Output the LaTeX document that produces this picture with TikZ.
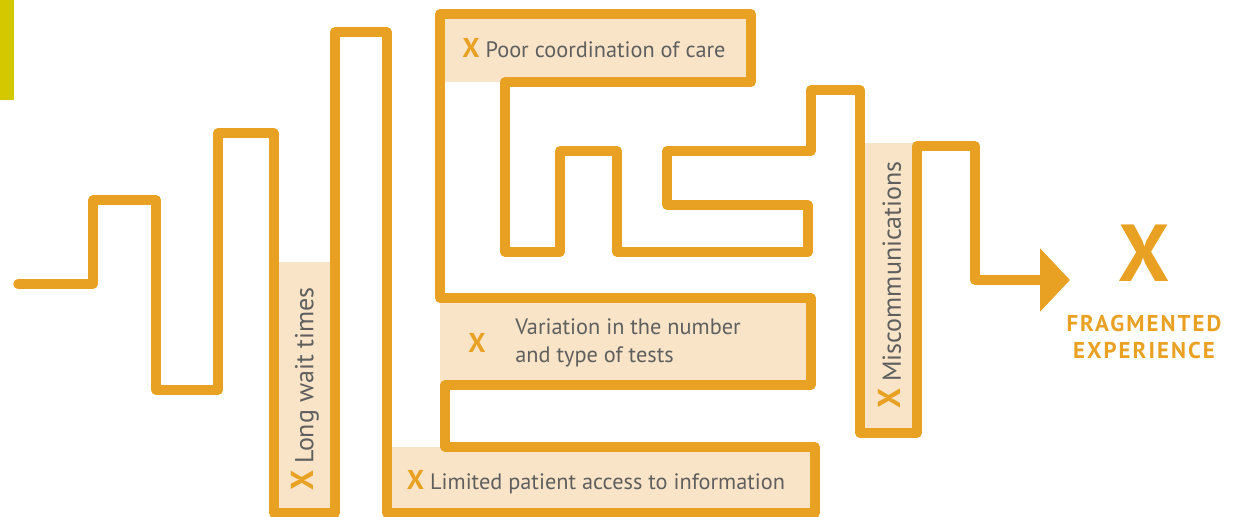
\documentclass[tikz,border=0pt]{standalone}
\usepackage{fontspec}
\setmainfont{PT Sans}
\usetikzlibrary{arrows.meta, positioning}
\definecolor{mazeorange}{RGB}{232,161,35}
\definecolor{boxfill}{RGB}{249,228,200}
\definecolor{txtgrey}{RGB}{95,95,95}
\definecolor{cornerylw}{RGB}{212,200,0}
\newcommand{\badx}{{\color{mazeorange}\bfseries\fontsize{1.22em}{1em}\selectfont X}}
\tikzstyle{maze} = [line width=5.4pt, draw=mazeorange, line join=round, line cap=round]
\tikzstyle{box} = [fill=boxfill]
\tikzstyle{issue} = [text=txtgrey, inner sep=0pt, font=\fontsize{12.7}{15.5}\selectfont]
\tikzstyle{sideissue} = [issue, rotate=90, font=\fontsize{14.8}{16}\selectfont]
\tikzstyle{result} = [text=mazeorange, inner sep=0pt, align=center, font=\bfseries\fontsize{13}{15.5}\selectfont\addfontfeature{LetterSpace=9}]
\tikzstyle{tip} = [-{Triangle[length=17pt,width=35pt]}]

\begin{document}
\begin{tikzpicture}[x=0.02cm, y=-0.02cm]
\useasboundingbox (0,0) rectangle (1238,517);
\fill[cornerylw] (0,0) rectangle (14,100);
\fill[box] (278,262) rectangle (332,513);
\fill[box] (387,447) rectangle (815,513);
\fill[box] (440,298) rectangle (811,385);
\fill[box] (440,14) rectangle (751,82);
\fill[box] (860,143) rectangle (917,433);
\draw[maze, tip] (18,284) -| (93,200) -| (156,390) -| (218,133) -| (274,513) -| (335,32) -| (387,513)
  -| (815,447) -| (445,385) -| (811,298) -| (440,14) -| (751,82) -| (505,252) -| (560,151) -| (617,252)
  -| (808,205) -| (667,151) -| (811,90) -| (860,433) -| (917,146) -| (975,280) -- (1070,280);
\node (wait) [sideissue] at (305,389) {\badx\ Long wait times};
\node (access) [issue] at (596,482) {\badx\ Limited patient access to information};
\node (poor) [issue] at (594,48) {\badx\ Poor coordination of care};
\node (varx) [issue] at (477,343) {\badx};
\node (vary) [issue, anchor=west, align=left] at (515,343) {Variation in the number\\and type of tests};
\node (miscomm) [sideissue] at (890,285) {\badx\ Miscommunications};
\node (bigx) [text=mazeorange, inner sep=0pt, font=\bfseries\fontsize{46}{46}\selectfont] at (1144,253) {X};
\node (frag) [result, below=19pt of bigx] {FRAGMENTED\\EXPERIENCE};
\end{tikzpicture}
\end{document}
